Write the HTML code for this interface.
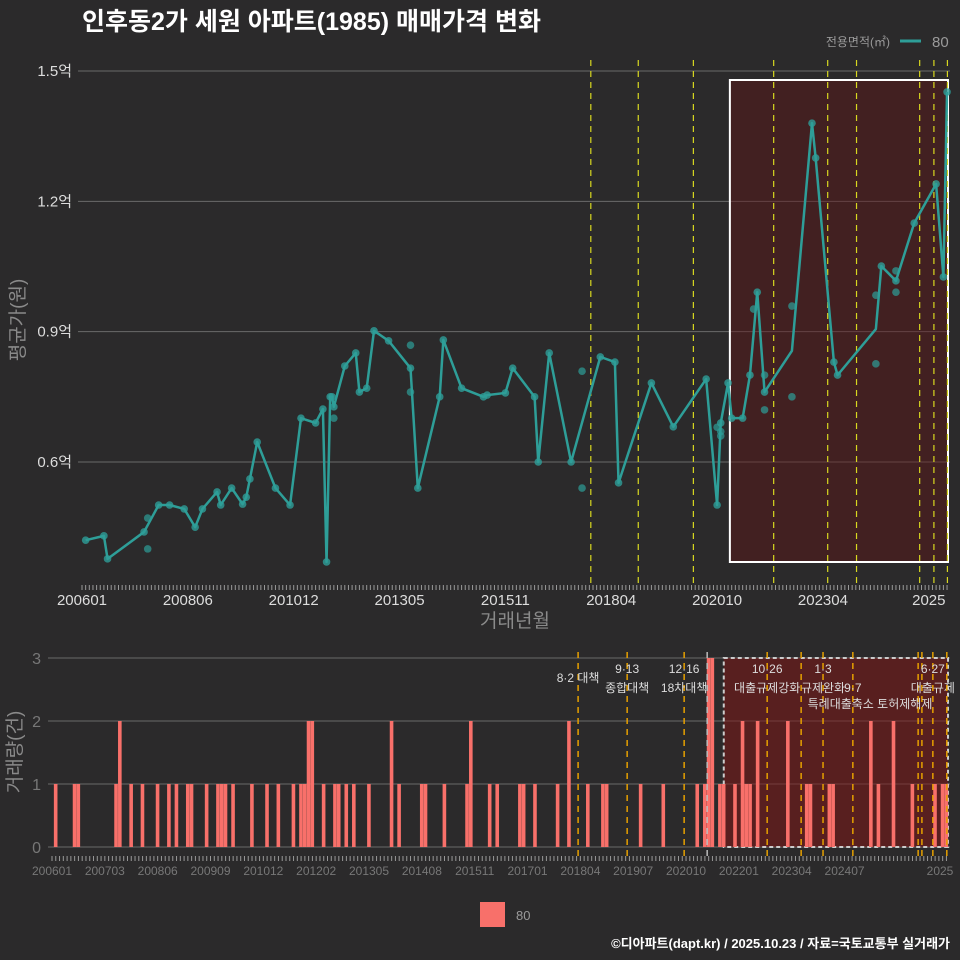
<!DOCTYPE html>
<html><head><meta charset="utf-8">
<style>
html,body{margin:0;padding:0;background:#2b2a2b;}
svg{display:block;font-family:"Liberation Sans","Noto Sans CJK KR",sans-serif;}
</style></head>
<body>
<svg id="c" width="960" height="960" viewBox="0 0 960 960">
<rect x="0" y="0" width="960" height="960" fill="#2b2a2b"/>
<text x="82" y="30" font-size="25" font-weight="bold" fill="#ffffff">인후동2가 세원 아파트(1985) 매매가격 변화</text>
<text x="890" y="46" font-size="12" fill="#9a9a9a" text-anchor="end">전용면적(㎡)</text>
<line x1="900" y1="41" x2="921" y2="41" stroke="#2e9e98" stroke-width="3"/>
<text x="932" y="47" font-size="15" fill="#9a9a9a">80</text>
<g id="topg"></g>
<g id="botg"></g>
<rect x="480" y="902" width="25" height="25" fill="#f8706a"/>
<text x="516" y="920" font-size="13" fill="#9a9a9a">80</text>
<text x="950" y="948" font-size="13" font-weight="bold" fill="#ffffff" text-anchor="end">©디아파트(dapt.kr) / 2025.10.23 / 자료=국토교통부 실거래가</text>
</svg>
<script>
// months since 2006-01
const lineMonths=[1,6,7,17,21,24,28,31,33,37,38,41,44,45,46,48,53,57,60,64,66,67,68,68.5,69,72,75,76,78,80,84,90,92,98,99,104,110,111,116,118,124,125,128,134,142,146,147,156,162,171,174,175,177,178,181,183,185,187,194.5,200,201,206,207,217.5,219,223,228,234,236,237];
const lineValues=[0.420,0.430,0.377,0.439,0.501,0.501,0.492,0.450,0.492,0.531,0.501,0.540,0.503,0.519,0.561,0.646,0.540,0.501,0.701,0.690,0.722,0.370,0.750,0.750,0.727,0.821,0.851,0.761,0.770,0.902,0.879,0.816,0.540,0.750,0.881,0.770,0.750,0.754,0.759,0.816,0.750,0.600,0.851,0.600,0.842,0.830,0.552,0.782,0.681,0.791,0.501,0.690,0.782,0.701,0.701,0.800,0.991,0.761,0.856,1.380,1.300,0.830,0.800,0.906,1.051,1.017,1.150,1.240,1.026,1.452];
const lineDots=[1,1,1,1,1,1,1,1,1,1,1,1,1,1,1,1,1,1,1,1,1,1,1,1,1,1,1,1,1,1,1,1,1,1,1,1,1,1,1,1,1,1,1,1,1,1,1,1,1,1,1,1,1,1,1,1,1,1,0,1,1,1,1,0,1,1,1,1,1,1];
const scatterMonths=[18,18,69,90,90,137,137,174,175,175,184,187,187,194.5,194.5,217.5,217.5,223,223];
const scatterValues=[0.471,0.400,0.701,0.869,0.761,0.809,0.540,0.680,0.660,0.670,0.952,0.800,0.720,0.750,0.959,0.826,0.984,0.991,1.040];
const yTicks=[0.6,0.9,1.2,1.5];
const yTickLabels=["0.6억","0.9억","1.2억","1.5억"];
const topXTicks=[0,29,58,87,116,145,174,203,232];
const topXLabels=["200601","200806","201012","201305","201511","201804","202010","202304","2025"];
const policyMonthsTop=[139.4,152.4,167.5,189.5,204.3,212.2,229.5,233.4,237.1];
const barMonths=[1,6,7,17,18,21,24,28,31,33,36,37,41,44,45,46,48,53,57,60,64,66,67,68,69,72,75,76,78,80,84,90,92,98,99,104,110,111,116,118,124,125,128,134,137,142,146,147,156,162,171,173,174,175,177,178,181,183,184,185,187,195,200,201,206,207,217,219,223,228,234,236,237];
const barCounts=[1,1,1,1,2,1,1,1,1,1,1,1,1,1,1,1,1,1,1,1,1,1,1,2,2,1,1,1,1,1,1,2,1,1,1,1,1,2,1,1,1,1,1,1,2,1,1,1,1,1,1,1,3,3,1,1,1,2,1,1,2,2,1,1,1,1,2,1,2,1,1,1,1];
const countTicks=[0,1,2,3];
const botXTicks=[0,14,28,42,56,70,84,98,112,126,140,154,168,182,196,210,224];
const botXLabels=["200601","200703","200806","200909","201012","201202","201305","201408","201511","201701","201804","201907","202010","202201","202304","202407","2025"];
const policyMonthsBot=[139.4,152.4,167.5,173.6,189.5,198.5,204.3,212.2,229.5,230.5,233.4,237.1];
const policyTop=["8·2 대책","9·13","12·16","","10·26","","1·3","","","","6·27",""];
const policyBottom=["","종합대책","18차대책","","대출규제강화","","규제완화","9·7","","","대출규제",""];

const NS="http://www.w3.org/2000/svg";
function mk(parent,tag,attrs,text){const e=document.createElementNS(NS,tag);for(const k in attrs)e.setAttribute(k,attrs[k]);if(text!==undefined)e.textContent=text;parent.appendChild(e);return e;}
const xT=m=>82+3.65*m, yT=v=>462-(v-0.6)*434.4;
const xB=m=>52+3.774*m, yB=c=>847-63*c;
const topG=document.getElementById('topg'), botG=document.getElementById('botg');

yTicks.forEach((t,i)=>{
 let g=mk(topG,'line',{x1:78,x2:950,y1:yT(t),y2:yT(t),stroke:'#6a6a6a','stroke-width':1});
 
 
 let l=mk(topG,'text',{x:72,y:yT(t)+5,'font-size':15,fill:'#dddddd','text-anchor':'end'},yTickLabels[i]);
 
 
});
let r=mk(topG,'rect',{x:xT(177.5),y:80,width:948-xT(177.5),height:482,fill:'rgba(95,20,22,0.45)',stroke:'#ffffff','stroke-width':2});


policyMonthsTop.forEach(m=>{
 let l=mk(topG,'line',{x1:xT(m),x2:xT(m),y1:60,y2:588,stroke:'#d8d820','stroke-width':1.2,'stroke-dasharray':'6,5'});
 
 
});
for(let m=0;m<=237;m++){mk(topG,'line',{x1:xT(m),x2:xT(m),y1:585,y2:590,stroke:'#999','stroke-width':1});}
topXTicks.forEach((m,i)=>{
 let l=mk(topG,'text',{x:xT(m),y:605,'font-size':15,fill:'#dddddd','text-anchor':'middle'},topXLabels[i]);
 
 
});
let yt=mk(topG,'text',{x:0,y:0,'font-size':19,fill:'#8a8a8a','text-anchor':'middle',transform:'translate(24,320) rotate(-90)'},'평균가(원)');


let xt=mk(topG,'text',{x:515,y:627,'font-size':19,fill:'#8a8a8a','text-anchor':'middle'},'거래년월');


let pts=lineMonths.map((m,i)=>xT(m)+','+yT(lineValues[i])).join(' ');
let pl=mk(topG,'polyline',{points:pts,fill:'none',stroke:'#2e9e98','stroke-width':2.5,'stroke-linejoin':'round'});


lineMonths.forEach((m,i)=>{ if(!lineDots[i])return;
 let c=mk(topG,'circle',{cx:xT(m),cy:yT(lineValues[i]),r:3.8,fill:'#2e9e98','fill-opacity':0.8});
 
 
});
scatterMonths.forEach((m,i)=>{
 let c=mk(topG,'circle',{cx:xT(m),cy:yT(scatterValues[i]),r:3.8,fill:'#2e9e98','fill-opacity':0.7});
 
 
});

countTicks.forEach(t=>{
 let g=mk(botG,'line',{x1:48,x2:950,y1:yB(t),y2:yB(t),stroke:'#6a6a6a','stroke-width':1});
 
 
 let l=mk(botG,'text',{x:41,y:yB(t)+6,'font-size':16,fill:'#777','text-anchor':'end'},String(t));
 
 
});
let br=mk(botG,'rect',{x:xB(178),y:658,width:948-xB(178),height:189,fill:'rgba(125,22,22,0.55)',stroke:'#cccccc','stroke-width':2,'stroke-dasharray':'4,3'});


barMonths.forEach((m,i)=>{
 let b=mk(botG,'rect',{x:xB(m)-1.9,y:yB(barCounts[i]),width:3.6,height:yB(0)-yB(barCounts[i]),fill:'#f8706a'});
 
 
});
policyMonthsBot.forEach((m,i)=>{
 let l=mk(botG,'line',{x1:xB(m),x2:xB(m),y1:652,y2:858,stroke:i===3?'#bbbbbb':'#e6a000','stroke-width':1.5,'stroke-dasharray':'6,5'});
 
 
 if(policyTop[i]){let t=mk(botG,'text',{x:xB(m),y:i===0?682:673,'font-size':12,fill:'#dddddd','text-anchor':'middle'},policyTop[i]);
  
  }
 if(policyBottom[i]){let t=mk(botG,'text',{x:xB(m),y:692,'font-size':12,fill:'#dddddd','text-anchor':'middle'},policyBottom[i]);
  
  }
});
let pt=mk(botG,'text',{x:870,y:708,'font-size':12,fill:'#dddddd','text-anchor':'middle'},'특례대출축소 토허제해제');


for(let m=0;m<=237;m++){mk(botG,'line',{x1:xB(m),x2:xB(m),y1:856,y2:861,stroke:'#999','stroke-width':1});}
botXTicks.forEach((m,i)=>{
 let l=mk(botG,'text',{x:i===botXLabels.length-1?940:xB(m),y:875,'font-size':12,fill:'#777','text-anchor':'middle'},botXLabels[i]);
 
 
});
let vt=mk(botG,'text',{x:0,y:0,'font-size':19,fill:'#8a8a8a','text-anchor':'middle',transform:'translate(21,752) rotate(-90)'},'거래량(건)');


</script>
</body></html>
